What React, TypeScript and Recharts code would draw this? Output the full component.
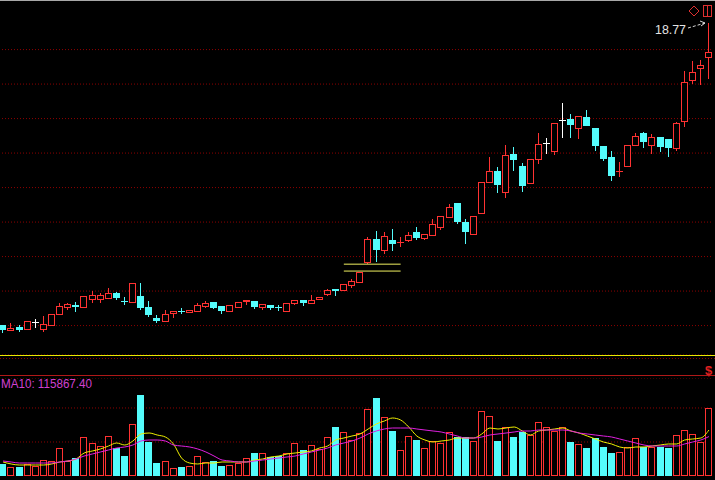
import { ComposedChart, Bar, Line, XAxis, YAxis, CartesianGrid, ReferenceLine, ReferenceDot } from 'recharts'

// daily candles (price units)
const opens = [
  10.02, 9.87, 9.96, 9.9, 10.1, 9.9, 10.02, 10.34, 10.54, 10.6,
  10.54, 10.77, 10.77, 10.8, 10.94, 10.71, 10.68, 10.86, 10.54, 10.22,
  10.13, 10.36, 10.42, 10.39, 10.42, 10.57, 10.68, 10.57, 10.42, 10.54,
  10.71, 10.71, 10.54, 10.6, 10.54, 10.42, 10.65, 10.74, 10.65, 10.77,
  10.92, 11.06, 11.03, 11.18, 11.26, 11.84, 12.51, 12.19, 12.48, 12.42,
  12.48, 12.71, 12.54, 12.63, 12.86, 13.15, 13.55, 13.0, 12.65, 13.26,
  14.16, 14.48, 13.87, 14.97, 14.63, 14.13, 14.83, 15.29, 15.06, 15.96,
  15.99, 15.73, 16.05, 15.73, 15.21, 14.89, 14.48, 14.63, 15.23, 15.58,
  15.23, 15.47, 15.41, 15.15, 15.93, 17.12, 17.47, 17.78,
]
const closes = [
  9.9, 9.93, 9.9, 10.13, 10.1, 10.05, 10.34, 10.57, 10.63, 10.57,
  10.86, 10.89, 10.89, 10.94, 10.83, 10.7, 11.23, 10.54, 10.34, 10.16,
  10.34, 10.42, 10.41, 10.45, 10.6, 10.65, 10.54, 10.45, 10.6, 10.68,
  10.74, 10.57, 10.63, 10.54, 10.53, 10.65, 10.74, 10.68, 10.74, 10.83,
  11.03, 11.03, 11.21, 11.29, 11.55, 12.51, 12.22, 12.6, 12.39, 12.43,
  12.63, 12.57, 12.65, 12.94, 13.18, 13.44, 13.03, 12.74, 13.18, 14.16,
  14.48, 14.1, 14.94, 14.83, 14.08, 14.83, 15.26, 15.29, 15.87, 15.96,
  15.84, 16.07, 15.81, 15.23, 14.86, 14.36, 14.49, 15.23, 15.5, 15.35,
  15.47, 15.21, 15.18, 15.87, 17.06, 17.35, 17.55, 17.93,
]
const highs = [
  10.02, 10.08, 10.02, 10.13, 10.19, 10.28, 10.34, 10.65, 10.65, 10.68,
  10.86, 11.0, 10.94, 11.09, 10.97, 10.83, 11.23, 11.23, 10.71, 10.31,
  10.45, 10.42, 10.51, 10.45, 10.65, 10.71, 10.68, 10.57, 10.6, 10.68,
  10.74, 10.71, 10.63, 10.6, 10.6, 10.65, 10.74, 10.74, 10.89, 10.83,
  11.06, 11.06, 11.21, 11.35, 11.55, 12.57, 12.74, 12.71, 12.8, 12.57,
  12.71, 12.86, 12.65, 13.09, 13.18, 13.52, 13.55, 13.09, 13.18, 14.16,
  14.89, 14.6, 15.23, 15.18, 14.71, 14.83, 15.58, 15.44, 15.87, 16.45,
  16.13, 16.07, 16.25, 15.73, 15.21, 15.06, 14.74, 15.23, 15.58, 15.61,
  15.55, 15.47, 15.41, 15.9, 17.38, 17.67, 17.7, 18.77,
]
const lows = [
  9.81, 9.87, 9.84, 9.9, 9.96, 9.84, 10.02, 10.34, 10.48, 10.42,
  10.54, 10.68, 10.68, 10.8, 10.77, 10.63, 10.68, 10.48, 10.28, 10.1,
  10.13, 10.25, 10.36, 10.39, 10.42, 10.54, 10.51, 10.36, 10.42, 10.54,
  10.63, 10.51, 10.48, 10.48, 10.45, 10.42, 10.63, 10.6, 10.65, 10.77,
  10.89, 10.89, 11.03, 11.12, 11.26, 11.81, 11.87, 12.1, 12.19, 12.31,
  12.45, 12.51, 12.51, 12.63, 12.8, 13.15, 12.97, 12.39, 12.65, 13.26,
  14.16, 13.87, 13.73, 14.51, 13.9, 14.13, 14.71, 15.0, 14.97, 15.47,
  15.47, 15.44, 15.81, 15.09, 14.8, 14.22, 14.34, 14.63, 15.23, 15.18,
  15.0, 15.06, 14.92, 15.09, 15.79, 17.03, 17.0, 17.18,
]
const volumes = [
  35300, 26500, 26500, 35300, 29400, 47000, 44100, 82300, 44100, 52900,
  114700, 97000, 88200, 117600, 82300, 58800, 152900, 238100, 100000, 38200,
  44100, 23500, 26500, 29400, 58800, 41200, 44100, 29400, 32300, 38200,
  52900, 67600, 67600, 55900, 58800, 67600, 97000, 76400, 91100, 79400,
  114700, 144100, 129400, 105800, 126400, 197000, 229300, 173500, 132300, 76400,
  117600, 105800, 82300, 102900, 97000, 129400, 114700, 114700, 102900, 191100,
  176400, 102900, 144100, 114700, 129400, 120500, 158800, 144100, 132300, 144100,
  100000, 94100, 82300, 111700, 85300, 67600, 70600, 85300, 111700, 85300,
  85300, 85300, 82300, 120500, 135200, 123500, 100000, 199900,
]
const ma5 = [
  41200, 35300, 32300, 32300, 32300, 32300, 35300, 41200, 44100, 50000,
  67600, 73500, 79400, 88200, 97000, 91100, 102900, 123500, 126400, 120500,
  114700, 94100, 52900, 38200, 35300, 38200, 38200, 41200, 41200, 41200,
  41200, 47000, 50000, 55900, 58800, 64700, 67600, 70600, 73500, 82300,
  88200, 105800, 111700, 117600, 123500, 138200, 152900, 161700, 170500, 164600,
  144100, 117600, 105800, 100000, 102900, 105800, 111700, 111700, 111700, 123500,
  141100, 138200, 141100, 144100, 132300, 120500, 132300, 135200, 138200, 141100,
  132300, 126400, 117600, 108800, 100000, 94100, 85300, 82300, 85300, 85300,
  88200, 91100, 94100, 94100, 105800, 108800, 111700, 135200,
]
const ma10 = [
  44100, 41200, 38200, 38200, 38200, 38200, 38200, 41200, 44100, 50000,
  58800, 64700, 70600, 76400, 82300, 85300, 91100, 102900, 105800, 105800,
  102900, 91100, 88200, 85300, 79400, 70600, 58800, 47000, 44100, 41200,
  41200, 44100, 47000, 50000, 52900, 55900, 58800, 64700, 70600, 76400,
  82300, 91100, 97000, 102900, 111700, 123500, 132300, 138200, 141100, 141100,
  141100, 138200, 135200, 132300, 129400, 123500, 117600, 111700, 111700, 114700,
  120500, 123500, 126400, 129400, 132300, 132300, 135200, 135200, 135200, 135200,
  132300, 126400, 123500, 120500, 117600, 114700, 108800, 102900, 97000, 91100,
  88200, 88200, 88200, 88200, 94100, 100000, 105800, 115867.4,
]

const priceTicks = [10, 11, 12, 13, 14, 15, 16, 17, 18]
const volTicks = [100000, 200000]
const gapHigh = 11.78
const gapLow = 11.58
const gapFrom = 42
const gapTo = 49

const RED = '#ff3232'
const CYAN = '#54fcfc'
const GRID = '#8c0000'

const data = opens.map((o, i) => ({
  i,
  open: o,
  close: closes[i],
  high: highs[i],
  low: lows[i],
  range: [lows[i], highs[i]],
  vol: volumes[i],
  ma5: ma5[i],
  ma10: ma10[i],
}))

const last = data[data.length - 1]

// 1px outline drawn with filled rects so it stays crisp
function Box({ left, top, bottom, color }: { left: number; top: number; bottom: number; color: string }) {
  const h = bottom - top + 1
  return (
    <g shapeRendering="crispEdges">
      <rect x={left} y={top} width={7} height={h} fill="#000" />
      <rect x={left} y={top} width={7} height={1} fill={color} />
      <rect x={left} y={bottom} width={7} height={1} fill={color} />
      <rect x={left} y={top} width={1} height={h} fill={color} />
      <rect x={left + 6} y={top} width={1} height={h} fill={color} />
    </g>
  )
}

function Candle(props: any) {
  const { x, y, width, height, payload } = props
  const { open, close, high, low } = payload
  const top = Math.min(y, y + height)
  const k = high > low ? Math.abs(height) / (high - low) : 0
  const py = (v: number) => top + (high - v) * k
  const c = Math.floor(x + width / 2)
  const yh = Math.round(py(high))
  const yl = Math.round(py(low))
  const bTop = Math.round(py(Math.max(open, close)))
  const bBot = Math.round(py(Math.min(open, close)))
  const color = close > open ? RED : close < open ? CYAN : '#ffffff'
  const wick = <rect x={c} y={yh} width={1} height={yl - yh + 1} fill={color} shapeRendering="crispEdges" />
  if (close === open || bBot - bTop < 1) {
    return (
      <g>
        {wick}
        <rect x={c - 3} y={bTop} width={7} height={1} fill={color} shapeRendering="crispEdges" />
      </g>
    )
  }
  if (close > open) {
    return (
      <g>
        {wick}
        <Box left={c - 3} top={bTop} bottom={bBot} color={RED} />
      </g>
    )
  }
  return (
    <g>
      {wick}
      <rect x={c - 3} y={bTop} width={7} height={bBot - bTop + 1} fill={CYAN} shapeRendering="crispEdges" />
    </g>
  )
}

function VolBar(props: any) {
  const { x, y, width, height, payload } = props
  const c = Math.floor(x + width / 2)
  const top = Math.round(y)
  const bot = Math.round(y + height) - 1
  if (payload.close >= payload.open) {
    return <Box left={c - 3} top={top} bottom={bot} color={RED} />
  }
  return <rect x={c - 3} y={top} width={7} height={bot - top + 1} fill={CYAN} shapeRendering="crispEdges" />
}

function PeakLabel({ cx, cy }: any) {
  const x = Math.round(cx)
  const y = Math.round(cy)
  return (
    <g>
      <text x={x - 54} y={y + 11} fill="#e4e4e4" fontSize={13} fontFamily="Arial" textLength={31} lengthAdjust="spacingAndGlyphs">
        {last.high.toFixed(2)}
      </text>
      <line x1={x - 21} y1={y + 5} x2={x - 4} y2={y} stroke="#d8d8d8" strokeDasharray="3 2" />
      <polyline points={`${x - 9},${y - 2} ${x - 4},${y} ${x - 8},${y + 3}`} fill="none" stroke="#d8d8d8" />
    </g>
  )
}

export default function App() {
  return (
    <div style={{ position: 'absolute', left: 0, top: 0, width: 715, height: 480, background: '#000', overflow: 'hidden' }}>
      <div style={{ position: 'absolute', left: -1, top: 0 }}>
        <ComposedChart width={714} height={355} data={data} margin={{ top: 0, right: 0, bottom: 0, left: 0 }}>
          <CartesianGrid vertical={false} stroke={GRID} strokeDasharray="1 2" />
          <XAxis dataKey="i" hide />
          <YAxis hide domain={[9.147, 19.437]} ticks={priceTicks} allowDataOverflow />
          <Bar dataKey="range" shape={Candle} isAnimationActive={false} />
          <ReferenceLine
            segment={[{ x: gapFrom, y: gapHigh }, { x: gapTo, y: gapHigh }]}
            stroke="#f0f060"
            ifOverflow="visible"
          />
          <ReferenceLine
            segment={[{ x: gapFrom, y: gapLow }, { x: gapTo, y: gapLow }]}
            stroke="#f0f060"
            ifOverflow="visible"
          />
          <ReferenceDot x={last.i} y={last.high} r={1} shape={PeakLabel} ifOverflow="visible" />
        </ComposedChart>
      </div>

      <div style={{ position: 'absolute', left: -1, top: 378 }}>
        <ComposedChart width={714} height={98} data={data} margin={{ top: 0, right: 0, bottom: 0, left: 0 }}>
          <CartesianGrid vertical={false} stroke={GRID} strokeDasharray="1 2" />
          <XAxis dataKey="i" hide />
          <YAxis hide domain={[0, 288120]} ticks={volTicks} allowDataOverflow />
          <Bar dataKey="vol" shape={VolBar} isAnimationActive={false} />
          <Line type="monotone" dataKey="ma5" stroke="#f0f000" strokeWidth={1} dot={false} activeDot={false} isAnimationActive={false} />
          <Line type="monotone" dataKey="ma10" stroke="#e020e0" strokeWidth={1} dot={false} activeDot={false} isAnimationActive={false} />
        </ComposedChart>
      </div>

      <svg width={715} height={480} style={{ position: 'absolute', left: 0, top: 0, pointerEvents: 'none' }}>
        <line x1={0} x2={715} y1={0.5} y2={0.5} stroke="#a8a8a8" />
        <line x1={0} x2={715} y1={355.5} y2={355.5} stroke="#e8e800" />
        <line x1={0} x2={715} y1={358.5} y2={358.5} stroke={GRID} strokeDasharray="1 2" />
        <line x1={0} x2={715} y1={375.5} y2={375.5} stroke="#b01818" />
        <text x={1} y={388} fill="#d040d0" fontSize={13} fontFamily="Arial" textLength={91} lengthAdjust="spacingAndGlyphs">
          {`MA10: ${last.ma10.toFixed(2)}`}
        </text>
        <text x={708.5} y={375} fill="#e02020" fontSize={13} fontWeight="bold" fontFamily="Arial" textAnchor="middle">
          $
        </text>
        <polygon points="694,6 699,11 694,16 689,11" fill="none" stroke="#e03030" />
        <rect x={703.5} y={5.5} width={8} height={11} fill="none" stroke="#e03030" />
        <line x1={707.5} x2={707.5} y1={5.5} y2={16.5} stroke="#e03030" />
      </svg>
    </div>
  )
}
